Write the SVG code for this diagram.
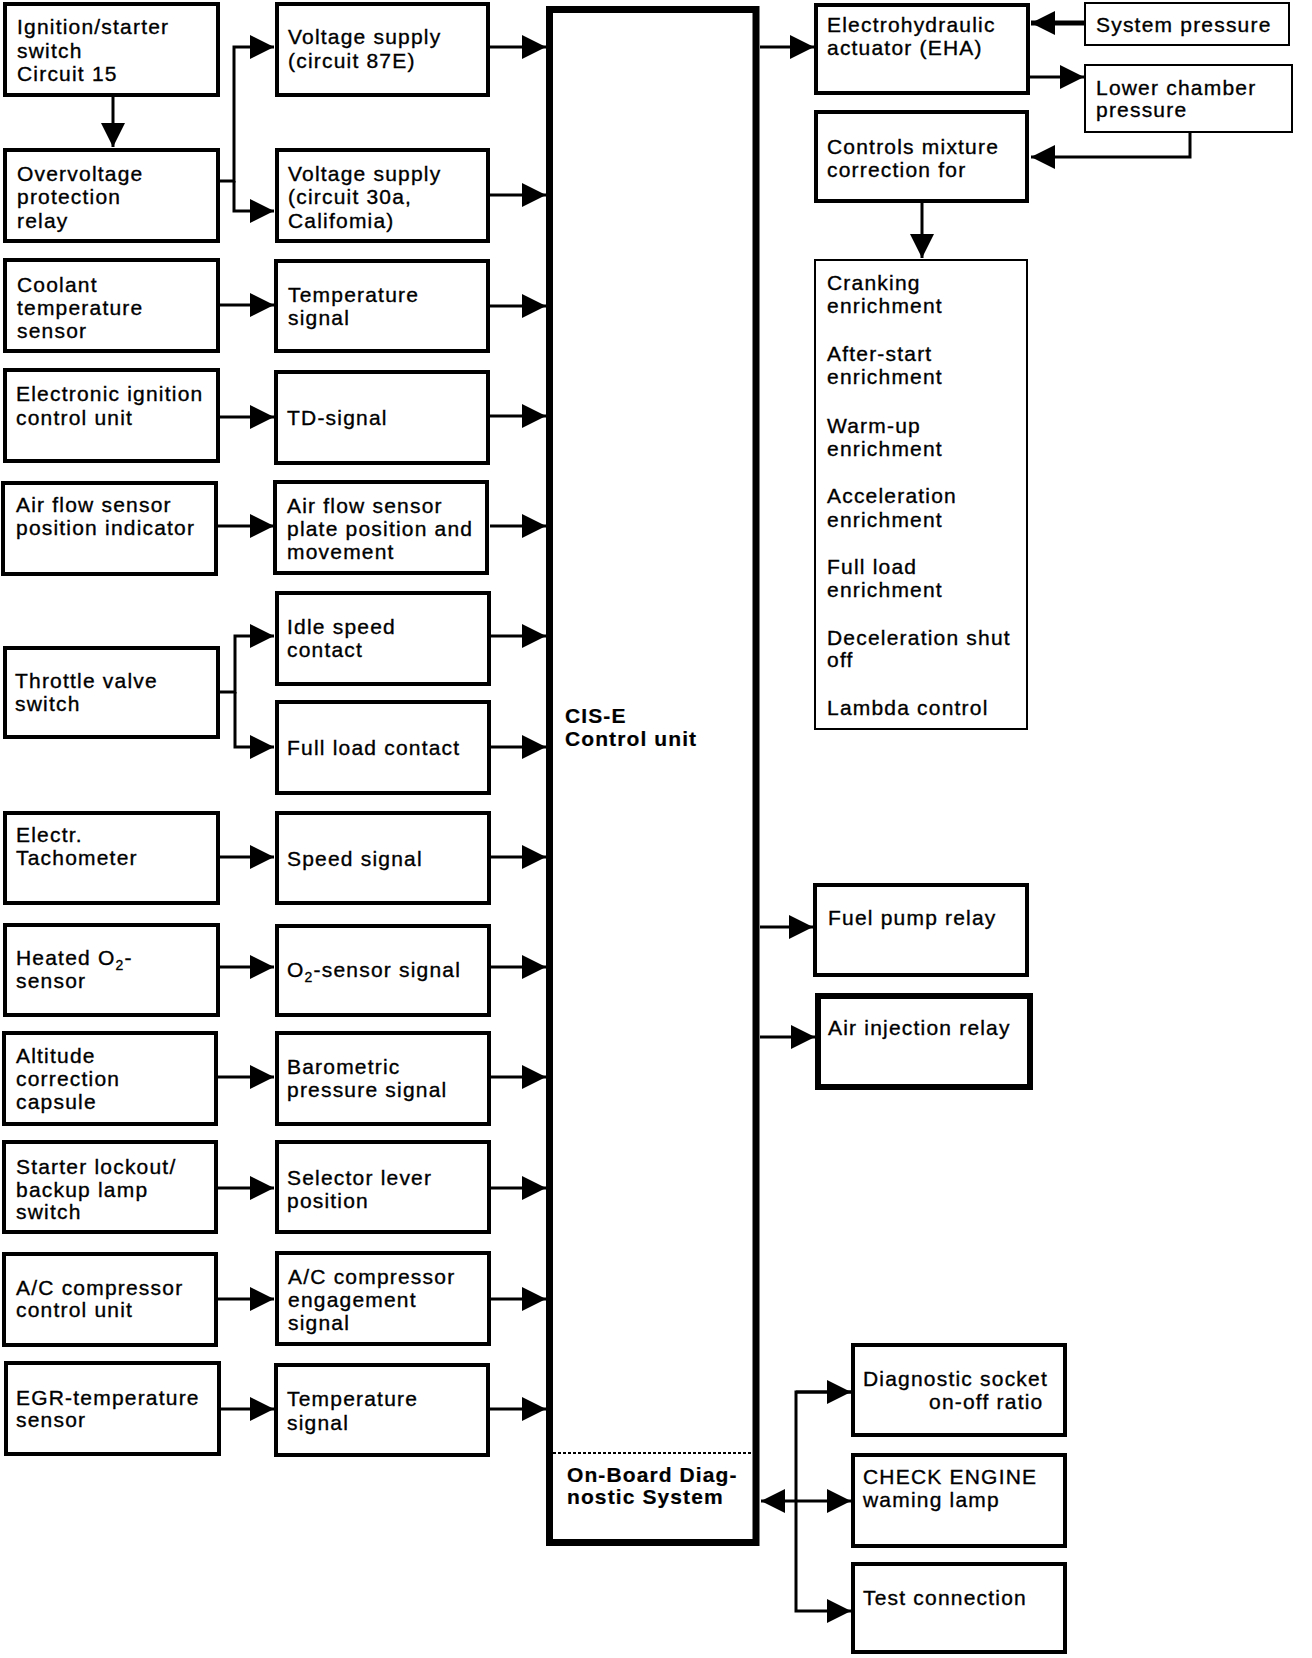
<svg xmlns="http://www.w3.org/2000/svg" width="1312" height="1658" viewBox="0 0 1312 1658">
<style>
rect.n{fill:#fff;stroke:#000;stroke-width:4}
rect.t{fill:#fff;stroke:#000;stroke-width:2}
rect.k{fill:#fff;stroke:#000;stroke-width:6}
text{font-family:"Liberation Sans",Arial,sans-serif;font-size:21px;letter-spacing:1.2px;fill:#000;stroke:#000;stroke-width:0.35}
text.b{font-weight:bold;letter-spacing:1.1px;stroke-width:0.2}
.c path,.c line{fill:none;stroke:#000;stroke-width:3}
</style>
<defs>
<marker id="a" markerUnits="userSpaceOnUse" markerWidth="24" markerHeight="24" refX="24" refY="12" orient="auto-start-reverse" viewBox="0 0 24 24">
<path d="M0,0 L24,12 L0,24 Z" fill="#000"/>
</marker>
</defs>
<rect width="1312" height="1658" fill="#fff"/>

<g id="cis">
<rect x="549.5" y="9.5" width="206.5" height="1533" fill="#fff" stroke="#000" stroke-width="7"/>
<line x1="553" y1="1453" x2="752" y2="1453" stroke="#000" stroke-width="2" stroke-dasharray="3,2"/>
<text class="b" x="565" y="723">CIS-E</text>
<text class="b" x="565" y="746">Control unit</text>
<text class="b" x="567" y="1482">On-Board Diag-</text>
<text class="b" x="567" y="1504">nostic System</text>
</g>

<g class="c" id="connectors">
<line x1="113" y1="97" x2="113" y2="147" marker-end="url(#a)"/>
<path d="M220,181 H234 V47 H274" marker-end="url(#a)"/>
<path d="M234,181 V211 H274" marker-end="url(#a)"/>
<line x1="220" y1="305" x2="274" y2="305" marker-end="url(#a)"/>
<line x1="220" y1="417" x2="274" y2="417" marker-end="url(#a)"/>
<line x1="218" y1="526" x2="274" y2="526" marker-end="url(#a)"/>
<path d="M219,692 H235 V636 H274" marker-end="url(#a)"/>
<path d="M235,692 V747 H274" marker-end="url(#a)"/>
<line x1="220" y1="857" x2="274" y2="857" marker-end="url(#a)"/>
<line x1="220" y1="967" x2="274" y2="967" marker-end="url(#a)"/>
<line x1="218" y1="1077" x2="274" y2="1077" marker-end="url(#a)"/>
<line x1="218" y1="1188" x2="274" y2="1188" marker-end="url(#a)"/>
<line x1="218" y1="1299" x2="274" y2="1299" marker-end="url(#a)"/>
<line x1="221" y1="1409" x2="274" y2="1409" marker-end="url(#a)"/>

<line x1="490" y1="47" x2="546" y2="47" marker-end="url(#a)"/>
<line x1="490" y1="195" x2="546" y2="195" marker-end="url(#a)"/>
<line x1="490" y1="306" x2="546" y2="306" marker-end="url(#a)"/>
<line x1="490" y1="416" x2="546" y2="416" marker-end="url(#a)"/>
<line x1="490" y1="526" x2="546" y2="526" marker-end="url(#a)"/>
<line x1="491" y1="636" x2="546" y2="636" marker-end="url(#a)"/>
<line x1="491" y1="747" x2="546" y2="747" marker-end="url(#a)"/>
<line x1="491" y1="857" x2="546" y2="857" marker-end="url(#a)"/>
<line x1="491" y1="967" x2="546" y2="967" marker-end="url(#a)"/>
<line x1="491" y1="1077" x2="546" y2="1077" marker-end="url(#a)"/>
<line x1="491" y1="1188" x2="546" y2="1188" marker-end="url(#a)"/>
<line x1="491" y1="1299" x2="546" y2="1299" marker-end="url(#a)"/>
<line x1="489" y1="1409" x2="546" y2="1409" marker-end="url(#a)"/>

<line x1="760" y1="47" x2="814" y2="47" marker-end="url(#a)"/>
<line x1="1084" y1="23" x2="1031" y2="23" style="stroke-width:5" marker-end="url(#a)"/>
<line x1="1030" y1="77" x2="1084" y2="77" marker-end="url(#a)"/>
<path d="M1190,133 V157 H1031" marker-end="url(#a)"/>
<line x1="922" y1="203" x2="922" y2="258" marker-end="url(#a)"/>
<line x1="760" y1="927" x2="813" y2="927" marker-end="url(#a)"/>
<line x1="760" y1="1037" x2="815" y2="1037" marker-end="url(#a)"/>
<line x1="761" y1="1501" x2="851" y2="1501" marker-start="url(#a)" marker-end="url(#a)"/>
<path d="M851,1392 H796 V1611 H851" marker-end="url(#a)"/>
<line x1="796" y1="1392" x2="851" y2="1392" marker-end="url(#a)"/>
</g>

<g id="ignition"><rect class="n" x="5" y="4" width="213" height="91"/>
<text x="17" y="34">Ignition/starter</text><text x="17" y="58">switch</text><text x="17" y="81">Circuit 15</text></g>
<g id="overvoltage"><rect class="n" x="5" y="150" width="213" height="91"/>
<text x="17" y="181">Overvoltage</text><text x="17" y="204">protection</text><text x="17" y="228">relay</text></g>
<g id="coolant"><rect class="n" x="5" y="260" width="213" height="91"/>
<text x="17" y="292">Coolant</text><text x="17" y="315">temperature</text><text x="17" y="338">sensor</text></g>
<g id="eicu"><rect class="n" x="5" y="370" width="213" height="91"/>
<text x="16" y="401">Electronic ignition</text><text x="16" y="425">control unit</text></g>
<g id="afpi"><rect class="n" x="3" y="483" width="213" height="91"/>
<text x="16" y="512">Air flow sensor</text><text x="16" y="535">position indicator</text></g>
<g id="throttle"><rect class="n" x="5" y="648" width="213" height="89"/>
<text x="15" y="688">Throttle valve</text><text x="15" y="711">switch</text></g>
<g id="tacho"><rect class="n" x="5" y="813" width="213" height="90"/>
<text x="16" y="842">Electr.</text><text x="16" y="865">Tachometer</text></g>
<g id="o2sensor"><rect class="n" x="5" y="925" width="213" height="90"/>
<text x="16" y="965">Heated O<tspan font-size="14" dy="5">2</tspan><tspan dy="-5">-</tspan></text><text x="16" y="988">sensor</text></g>
<g id="altitude"><rect class="n" x="4" y="1033" width="212" height="91"/>
<text x="16" y="1063">Altitude</text><text x="16" y="1086">correction</text><text x="16" y="1109">capsule</text></g>
<g id="starter"><rect class="n" x="4" y="1142" width="212" height="90"/>
<text x="16" y="1174">Starter lockout/</text><text x="16" y="1197">backup lamp</text><text x="16" y="1219">switch</text></g>
<g id="accu"><rect class="n" x="4" y="1254" width="212" height="91"/>
<text x="16" y="1295">A/C compressor</text><text x="16" y="1317">control unit</text></g>
<g id="egr"><rect class="n" x="6" y="1363" width="213" height="91"/>
<text x="16" y="1405">EGR-temperature</text><text x="16" y="1427">sensor</text></g>

<g id="vs87"><rect class="n" x="277" y="4" width="211" height="91"/>
<text x="288" y="44">Voltage supply</text><text x="288" y="68">(circuit 87E)</text></g>
<g id="vs30"><rect class="n" x="277" y="150" width="211" height="91"/>
<text x="288" y="181">Voltage supply</text><text x="288" y="204">(circuit 30a,</text><text x="288" y="228">Califomia)</text></g>
<g id="tempsig1"><rect class="n" x="276" y="261" width="212" height="90"/>
<text x="288" y="302">Temperature</text><text x="288" y="325">signal</text></g>
<g id="td"><rect class="n" x="276" y="372" width="212" height="91"/>
<text x="287" y="425">TD-signal</text></g>
<g id="afplate"><rect class="n" x="275" y="482" width="212" height="91"/>
<text x="287" y="513">Air flow sensor</text><text x="287" y="536">plate position and</text><text x="287" y="559">movement</text></g>
<g id="idle"><rect class="n" x="277" y="593" width="212" height="91"/>
<text x="287" y="634">Idle speed</text><text x="287" y="657">contact</text></g>
<g id="fullload"><rect class="n" x="277" y="702" width="212" height="91"/>
<text x="287" y="755">Full load contact</text></g>
<g id="speed"><rect class="n" x="277" y="813" width="212" height="90"/>
<text x="287" y="866">Speed signal</text></g>
<g id="o2sig"><rect class="n" x="277" y="926" width="212" height="89"/>
<text x="287" y="977">O<tspan font-size="14" dy="5">2</tspan><tspan dy="-5">-sensor signal</tspan></text></g>
<g id="baro"><rect class="n" x="277" y="1033" width="212" height="91"/>
<text x="287" y="1074">Barometric</text><text x="287" y="1097">pressure signal</text></g>
<g id="selector"><rect class="n" x="277" y="1142" width="212" height="90"/>
<text x="287" y="1185">Selector lever</text><text x="287" y="1208">position</text></g>
<g id="aceng"><rect class="n" x="277" y="1253" width="212" height="91"/>
<text x="288" y="1284">A/C compressor</text><text x="288" y="1307">engagement</text><text x="288" y="1330">signal</text></g>
<g id="tempsig2"><rect class="n" x="276" y="1365" width="212" height="90"/>
<text x="287" y="1406">Temperature</text><text x="287" y="1430">signal</text></g>

<g id="eha"><rect class="n" x="816" y="5" width="212" height="88"/>
<text x="827" y="32">Electrohydraulic</text><text x="827" y="55">actuator (EHA)</text></g>
<g id="syspress"><rect class="t" x="1085" y="3" width="204" height="42"/>
<text x="1096" y="32">System pressure</text></g>
<g id="lowerchamber"><rect class="t" x="1085" y="65" width="207" height="67"/>
<text x="1096" y="95">Lower chamber</text><text x="1096" y="117">pressure</text></g>
<g id="controls"><rect class="n" x="816" y="112" width="211" height="89"/>
<text x="827" y="154">Controls mixture</text><text x="827" y="177">correction for</text></g>
<g id="enrich"><rect class="t" x="815" y="260" width="212" height="469"/>
<text x="827" y="290">Cranking</text><text x="827" y="313">enrichment</text>
<text x="827" y="361">After-start</text><text x="827" y="384">enrichment</text>
<text x="827" y="433">Warm-up</text><text x="827" y="456">enrichment</text>
<text x="827" y="503">Acceleration</text><text x="827" y="527">enrichment</text>
<text x="827" y="574">Full load</text><text x="827" y="597">enrichment</text>
<text x="827" y="645">Deceleration shut</text><text x="827" y="667">off</text>
<text x="827" y="715">Lambda control</text></g>
<g id="fuelpump"><rect class="n" x="815" y="885" width="212" height="90"/>
<text x="828" y="925">Fuel pump relay</text></g>
<g id="airinj"><rect class="k" x="818" y="996" width="212" height="91"/>
<text x="828" y="1035">Air injection relay</text></g>
<g id="diagsocket"><rect class="n" x="853" y="1345" width="212" height="90"/>
<text x="863" y="1386">Diagnostic socket</text><text x="929" y="1409">on-off ratio</text></g>
<g id="checkengine"><rect class="n" x="853" y="1455" width="212" height="91"/>
<text x="863" y="1484">CHECK ENGINE</text><text x="863" y="1507">waming lamp</text></g>
<g id="testconn"><rect class="n" x="853" y="1564" width="212" height="88"/>
<text x="863" y="1605">Test connection</text></g>
</svg>
